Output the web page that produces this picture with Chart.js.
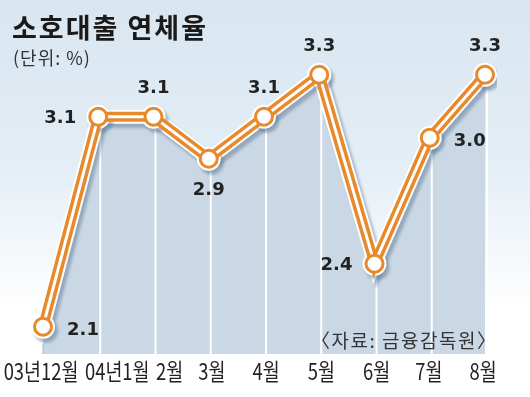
<!DOCTYPE html>
<html>
<head>
<meta charset="utf-8">
<script src="https://cdn.jsdelivr.net/npm/chart.js@4"></script>
<style>
  html, body { margin: 0; padding: 0; }
  body {
    width: 530px; height: 397px; overflow: hidden; position: relative;
    background: linear-gradient(to bottom, #d9e6f0 0px, #e3edf5 160px, #ffffff 310px, #ffffff 397px);
    font-family: "Noto Sans CJK KR", sans-serif;
  }
  #wrap { position: absolute; left: 0; top: 0; width: 530px; height: 397px; }
  .title { position: absolute; left: 12px; top: 13px; font-size: 27px; line-height: 27px; font-weight: bold; color: #1a1a1a; letter-spacing: 2px; }
  .unit { position: absolute; left: 13px; top: 44px; font-size: 18px; color: #333; letter-spacing: 1px; }
  .source { position: absolute; left: 311px; top: 326px; font-size: 19px; color: #333; letter-spacing: 1.5px; }
</style>
</head>
<body>
<div id="wrap"><canvas id="chart" width="530" height="397"></canvas></div>
<div class="title">소호대출 연체율</div>
<div class="unit">(단위: %)</div>
<div class="source">〈자료: 금융감독원〉</div>
<script>
const months = ["03년12월", "04년1월", "2월", "3월", "4월", "5월", "6월", "7월", "8월"];
const rates = [2.1, 3.1, 3.1, 2.9, 3.1, 3.3, 2.4, 3.0, 3.3];
// where each value label sits relative to its point
const labelSide = ["right", "left", "top", "bottom", "top", "top", "left", "right", "top"];
// nudges for the month names so the long ones do not collide
const monthShift = [-2, 19, 16, 3, 2, 2, 2, -1, -2];

const ORANGE = "#e8892c";

// drop shadow under the outer line
const shadowPlugin = {
  id: "lineShadow",
  beforeDatasetDraw(chart, args) {
    if (args.meta.dataset && chart.data.datasets[args.index].shadow) {
      const ctx = chart.ctx;
      ctx.save();
      ctx.shadowColor = "rgba(80, 110, 140, 0.45)";
      ctx.shadowOffsetX = 3;
      ctx.shadowOffsetY = 4;
      ctx.shadowBlur = 3;
    }
  },
  afterDatasetDraw(chart, args) {
    if (args.meta.dataset && chart.data.datasets[args.index].shadow) {
      chart.ctx.restore();
    }
  },
};

// white separators inside the filled area
const columnPlugin = {
  id: "columns",
  afterDatasetDraw(chart, args) {
    if (args.index !== 0) return;
    const ctx = chart.ctx;
    const bottom = chart.chartArea.bottom;
    ctx.save();
    ctx.strokeStyle = "#ffffff";
    ctx.lineWidth = 2;
    args.meta.data.forEach((pt, i) => {
      if (i === 0) return;
      ctx.beginPath();
      ctx.moveTo(pt.x + 2, pt.y);
      ctx.lineTo(pt.x + 2, bottom);
      ctx.stroke();
    });
    ctx.strokeStyle = "#b0b8c0";
    ctx.lineWidth = 1;
    const p0 = args.meta.data[0];
    ctx.beginPath();
    ctx.moveTo(p0.x, bottom - 10);
    ctx.lineTo(p0.x, bottom);
    ctx.stroke();
    ctx.restore();
  },
};

const textPlugin = {
  id: "texts",
  afterDatasetsDraw(chart) {
    const ctx = chart.ctx;
    const meta = chart.getDatasetMeta(4);
    ctx.save();
    ctx.font = "bold 18px 'DejaVu Sans'";
    ctx.fillStyle = "#222";
    ctx.textAlign = "center";
    ctx.textBaseline = "middle";
    meta.data.forEach((pt, i) => {
      let x = pt.x, y = pt.y;
      const side = labelSide[i];
      if (side === "right") { x += 40; y += 4; }
      if (side === "left") { x -= 38; y += 2; }
      if (side === "top") { y -= 28; }
      if (side === "bottom") { y += 32; }
      ctx.fillText(rates[i].toFixed(1), x, y);
    });

    // month names under the plot, in a narrow face
    const xScale = chart.scales.x;
    const squeeze = 0.8;
    ctx.font = "23px 'Noto Sans CJK KR'";
    ctx.fillStyle = "#222";
    months.forEach((m, i) => {
      const cx = xScale.getPixelForValue(i) + monthShift[i];
      ctx.save();
      ctx.translate(cx, chart.chartArea.bottom + 17);
      ctx.scale(squeeze, 1);
      ctx.fillText(m, 0, 0);
      ctx.restore();
    });
    ctx.restore();
  },
};

new Chart(document.getElementById("chart"), {
  type: "line",
  data: {
    labels: months,
    datasets: [
      {
        data: rates,
        fill: "start",
        backgroundColor: "#cad7e4",
        borderWidth: 0,
        pointRadius: 0,
        order: 5,
      },
      {
        data: rates,
        shadow: true,
        borderColor: "#ffffff",
        borderWidth: 14,
        pointRadius: 12,
        pointBorderWidth: 0,
        pointBackgroundColor: "#ffffff",
        order: 4,
      },
      {
        data: rates,
        borderColor: ORANGE,
        borderWidth: 10,
        pointRadius: 0,
        order: 3,
      },
      {
        data: rates,
        borderColor: "#ffffff",
        borderWidth: 3,
        pointRadius: 0,
        order: 2,
      },
      {
        data: rates,
        showLine: false,
        pointRadius: 8.5,
        pointBorderWidth: 3,
        pointBorderColor: ORANGE,
        pointBackgroundColor: "#ffffff",
        order: 1,
      },
    ],
  },
  options: {
    responsive: false,
    animation: false,
    events: [],
    layout: {
      padding: { left: 43, right: 45, top: 39, bottom: 43 },
    },
    plugins: {
      legend: { display: false },
      tooltip: { enabled: false },
    },
    scales: {
      x: {
        display: false,
        offset: false,
      },
      y: {
        display: false,
        min: 1.97,
        max: 3.47,
      },
    },
  },
  plugins: [shadowPlugin, columnPlugin, textPlugin],
});
</script>
</body>
</html>
